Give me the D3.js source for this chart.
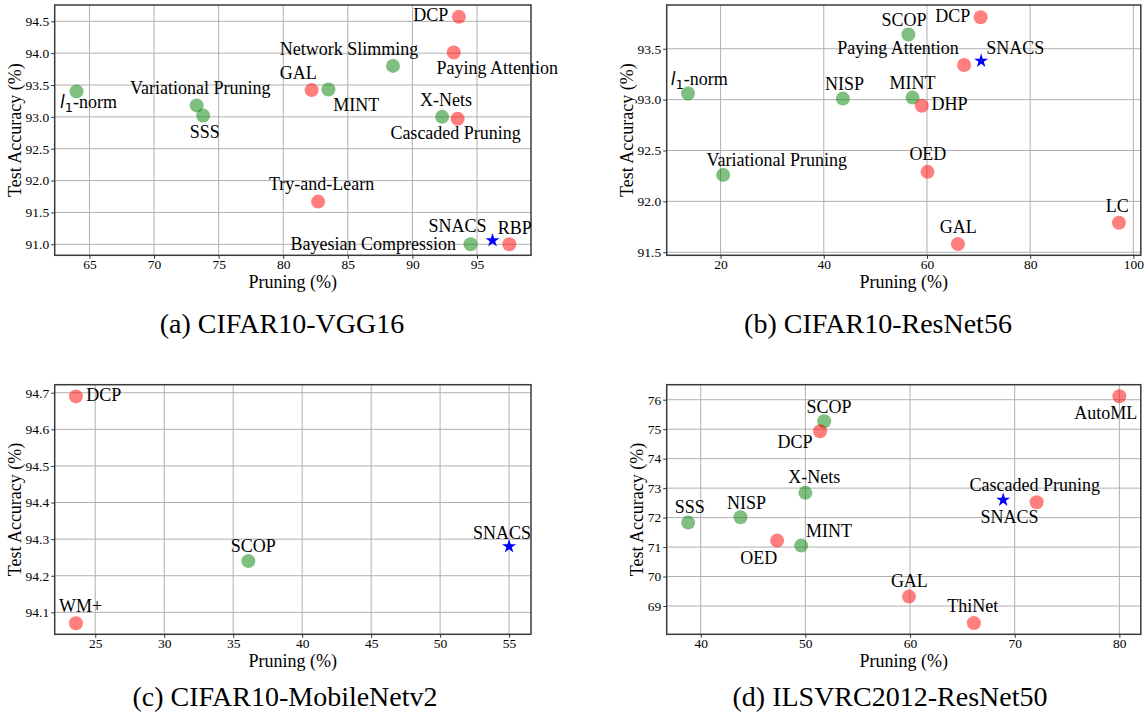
<!DOCTYPE html>
<html>
<head>
<meta charset="utf-8">
<script src="https://cdnjs.cloudflare.com/ajax/libs/d3/7.8.5/d3.min.js"></script>
<style>
  html, body { margin: 0; padding: 0; background: #fff; }
  svg { display: block; font-family: 'Liberation Serif', 'Times New Roman', 'DejaVu Serif', serif; }
</style>
</head>
<body>
<svg id="chart" width="1148" height="719"></svg>
<script>
// (a) CIFAR10-VGG16
const vggMethods = ['DCP', 'Network Slimming', 'Paying Attention', 'GAL', 'MINT', 'Variational Pruning', 'l1-norm',
                    'SSS', 'X-Nets', 'Cascaded Pruning', 'Try-and-Learn', 'Bayesian Compression', 'SNACS', 'RBP']
const vggPruning  = [93.6, 88.5, 93.2, 82.2, 83.5, 73.3, 64.0, 73.8, 92.3, 93.5, 82.7, 94.5, 96.2, 97.5]
const vggAccuracy = [94.57, 93.80, 94.01, 93.42, 93.43, 93.18, 93.40, 93.02, 93.00, 92.97, 91.67, 91.00, 91.06, 91.00]
const vggGroup    = ['red', 'green', 'red', 'red', 'green', 'green', 'green', 'green', 'green', 'red', 'red', 'green', 'ours', 'red']

// (b) CIFAR10-ResNet56
const r56Methods  = ['SCOP', 'DCP', 'Paying Attention', 'SNACS', 'l1-norm', 'NISP', 'MINT', 'DHP',
                     'Variational Pruning', 'OED', 'GAL', 'LC']
const r56Pruning  = [56.4, 70.4, 67.2, 70.5, 13.7, 43.7, 57.2, 59.0, 20.5, 60.1, 66.0, 97.2]
const r56Accuracy = [93.64, 93.81, 93.34, 93.38, 93.06, 93.01, 93.02, 92.94, 92.26, 92.29, 91.58, 91.79]
const r56Group    = ['green', 'red', 'red', 'ours', 'green', 'green', 'green', 'red', 'green', 'red', 'red', 'red']

// (c) CIFAR10-MobileNetv2
const mbMethods  = ['DCP', 'WM+', 'SCOP', 'SNACS']
const mbPruning  = [23.6, 23.6, 36.1, 55.0]
const mbAccuracy = [94.69, 94.07, 94.24, 94.28]
const mbGroup    = ['red', 'red', 'green', 'ours']

// (d) ILSVRC2012-ResNet50
const r50Methods  = ['AutoML', 'SCOP', 'DCP', 'X-Nets', 'SSS', 'NISP', 'MINT', 'OED',
                     'Cascaded Pruning', 'SNACS', 'GAL', 'ThiNet']
const r50Pruning  = [80.0, 51.8, 51.4, 50.0, 38.8, 43.8, 49.6, 47.3, 72.1, 68.9, 59.9, 66.1]
const r50Accuracy = [76.12, 75.27, 74.93, 72.84, 71.83, 72.01, 71.05, 71.22, 72.52, 72.60, 69.32, 68.42]
const r50Group    = ['red', 'green', 'red', 'green', 'green', 'green', 'green', 'red', 'red', 'ours', 'red', 'red']

// tick values
const vggXTicks = [65, 70, 75, 80, 85, 90, 95]
const vggYTicks = [91.0, 91.5, 92.0, 92.5, 93.0, 93.5, 94.0, 94.5]
const r56XTicks = [20, 40, 60, 80, 100]
const r56YTicks = [91.5, 92.0, 92.5, 93.0, 93.5]
const mbXTicks  = [25, 30, 35, 40, 45, 50, 55]
const mbYTicks  = [94.1, 94.2, 94.3, 94.4, 94.5, 94.6, 94.7]
const r50XTicks = [40, 50, 60, 70, 80]
const r50YTicks = [69, 70, 71, 72, 73, 74, 75, 76]

// label placement (px offset from the marker, text-anchor), same order as the methods
const vggLabelPos = [[-10.6, 4.6, 'end'], [-44, -11], [43.6, 21], [-13.3, -11.3], [27.9, 21.4], [3.6, -11.4], [12, 16.7],
                     [1.6, 22.3], [4, -11], [-2, 20.6], [3.5, -11.3], [-14.6, 5.3, 'end'], [-35, -8.2], [5.5, -10.7]]
const r56LabelPos = [[-4.4, -8.3], [-10.3, 5, 'end'], [-66.2, -11.4], [34.1, -7], [11.1, -9], [1.7, -9], [0, -9],
                     [9.6, 4.3, 'start'], [53.7, -9], [0.4, -12], [0.4, -10.7], [-1.7, -11]]
const mbLabelPos  = [[10.2, 4.7, 'start'], [4.7, -11], [4.9, -9], [-7.1, -7.4]]
const r50LabelPos = [[-13.7, 23.3], [4.8, -8.7], [-25.1, 17], [8.9, -9.4], [1.7, -9.4], [6.1, -8.6], [27.9, -8.6],
                     [-18.3, 23.4], [-2, -11.3], [6.3, 22.6], [0.4, -9.3], [-1.1, -11]]

const svg = d3.select('#chart')
svg.append('rect').attr('width', 1148).attr('height', 719).style('fill', '#fff')

const colors = {red: 'red', green: 'green'}

function drawPanel(cfg) {
    const {methods, pruning, accuracy, group, labelPos} = cfg

    const xScale = d3.scaleLinear().domain(cfg.xDomain).range([cfg.left, cfg.right])
    const yScale = d3.scaleLinear().domain(cfg.yDomain).range([cfg.bottom, cfg.top])

    const g = svg.append('g')

    //grid
    g.append('g').selectAll('line')
        .data(cfg.xTicks)
        .join('line')
        .attr('x1', d => xScale(d)).attr('x2', d => xScale(d))
        .attr('y1', cfg.top).attr('y2', cfg.bottom)
        .style('stroke', '#b0b0b0').style('stroke-width', 1)
    g.append('g').selectAll('line')
        .data(cfg.yTicks)
        .join('line')
        .attr('x1', cfg.left).attr('x2', cfg.right)
        .attr('y1', d => yScale(d)).attr('y2', d => yScale(d))
        .style('stroke', '#b0b0b0').style('stroke-width', 1)

    //axes
    const xAxis = g.append('g')
        .attr('transform', `translate(0, ${cfg.bottom})`)
        .call(d3.axisBottom(xScale).tickValues(cfg.xTicks).tickSize(3.5).tickPadding(1).tickFormat(cfg.xFormat))
    const yAxis = g.append('g')
        .attr('transform', `translate(${cfg.left}, 0)`)
        .call(d3.axisLeft(yScale).tickValues(cfg.yTicks).tickSize(3.5).tickPadding(2).tickFormat(cfg.yFormat))
    ;[xAxis, yAxis].forEach(ax => {
        ax.attr('font-family', null).attr('font-size', null)
        ax.select('.domain').remove()
        ax.selectAll('line').style('stroke', '#333').style('stroke-width', 1)
        ax.selectAll('text').style('font-size', '13.5px').style('fill', '#000')
    })

    //frame
    g.append('rect')
        .attr('x', cfg.left).attr('y', cfg.top)
        .attr('width', cfg.right - cfg.left).attr('height', cfg.bottom - cfg.top)
        .style('fill', 'none').style('stroke', '#3a3a3a').style('stroke-width', 1.5)

    //axis titles
    g.append('text')
        .attr('x', (cfg.left + cfg.right) / 2).attr('y', cfg.bottom + 32.5)
        .attr('text-anchor', 'middle')
        .style('font-size', '18px')
        .text('Pruning (%)')
    g.append('text')
        .attr('transform', `translate(${cfg.yTitleX}, ${(cfg.top + cfg.bottom) / 2}) rotate(-90)`)
        .attr('text-anchor', 'middle')
        .style('font-size', '18px')
        .text('Test Accuracy (%)')

    //points
    const pts = methods.map((m, i) => ({name: m, x: pruning[i], y: accuracy[i], group: group[i], pos: labelPos[i]}))

    g.append('g').selectAll('circle')
        .data(pts.filter(d => d.group !== 'ours'))
        .join('circle')
        .attr('cx', d => xScale(d.x))
        .attr('cy', d => yScale(d.y))
        .attr('r', 7)
        .style('fill', d => colors[d.group])
        .style('fill-opacity', 0.5)

    g.append('g').selectAll('path')
        .data(pts.filter(d => d.group === 'ours'))
        .join('path')
        .attr('d', d3.symbol(d3.symbolStar, 62))
        .attr('transform', d => `translate(${xScale(d.x)}, ${yScale(d.y)})`)
        .style('fill', '#0000ff')

    //labels
    const labels = g.append('g').selectAll('text')
        .data(pts)
        .join('text')
        .attr('x', d => xScale(d.x) + d.pos[0])
        .attr('y', d => yScale(d.y) + d.pos[1])
        .attr('text-anchor', d => d.pos[2] || 'middle')
        .style('font-size', '18px')

    labels.each(function(d) {
        const t = d3.select(this)
        if (d.name === 'l1-norm') {
            t.append('tspan').style('font-style', 'italic').style('font-family', 'DejaVu Sans').style('font-size', '17px').text('l')
            t.append('tspan').attr('dy', 4).style('font-size', '13px').style('font-family', 'DejaVu Sans').text('1')
            t.append('tspan').attr('dy', -4).text('-norm')
        } else {
            t.text(d.name)
        }
    })

    //caption
    svg.append('text')
        .attr('x', cfg.captionX).attr('y', cfg.captionY)
        .attr('text-anchor', 'middle')
        .style('font-size', '28px')
        .text(cfg.caption)
}

const fmt1 = d3.format('.1f'), fmt0 = d3.format('d')

drawPanel({
    methods: vggMethods, pruning: vggPruning, accuracy: vggAccuracy, group: vggGroup, labelPos: vggLabelPos,
    xDomain: [62.31, 99.18], yDomain: [90.827, 94.756], xTicks: vggXTicks, yTicks: vggYTicks,
    xFormat: fmt0, yFormat: fmt1,
    left: 54.7, right: 531, top: 5, bottom: 255.3, yTitleX: 21,
    caption: '(a) CIFAR10-VGG16', captionX: 282, captionY: 333
})

drawPanel({
    methods: r56Methods, pruning: r56Pruning, accuracy: r56Accuracy, group: r56Group, labelPos: r56LabelPos,
    xDomain: [9.56, 101.44], yDomain: [91.47, 93.93], xTicks: r56XTicks, yTicks: r56YTicks,
    xFormat: fmt0, yFormat: fmt1,
    left: 666.7, right: 1140.8, top: 5, bottom: 255.3, yTitleX: 633,
    caption: '(b) CIFAR10-ResNet56', captionX: 878, captionY: 333
})

drawPanel({
    methods: mbMethods, pruning: mbPruning, accuracy: mbAccuracy, group: mbGroup, labelPos: mbLabelPos,
    xDomain: [22.06, 56.59], yDomain: [94.04, 94.722], xTicks: mbXTicks, yTicks: mbYTicks,
    xFormat: fmt0, yFormat: fmt1,
    left: 54.7, right: 531, top: 384.7, bottom: 634.3, yTitleX: 21.4,
    caption: '(c) CIFAR10-MobileNetv2', captionX: 285, captionY: 706
})

drawPanel({
    methods: r50Methods, pruning: r50Pruning, accuracy: r50Accuracy, group: r50Group, labelPos: r50LabelPos,
    xDomain: [36.75, 82.05], yDomain: [68.04, 76.51], xTicks: r50XTicks, yTicks: r50YTicks,
    xFormat: fmt0, yFormat: fmt0,
    left: 666.7, right: 1140.8, top: 384.7, bottom: 634.3, yTitleX: 643,
    caption: '(d) ILSVRC2012-ResNet50', captionX: 890, captionY: 706
})
</script>
</body>
</html>
